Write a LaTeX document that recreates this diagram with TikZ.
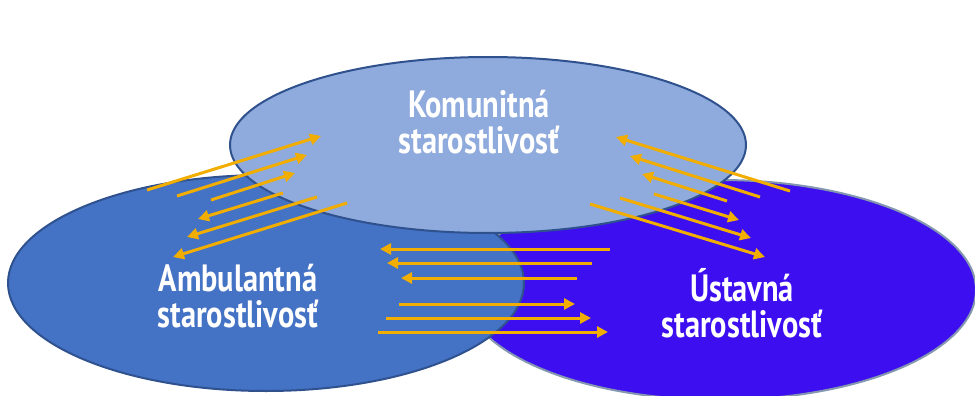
\documentclass[tikz,border=0pt]{standalone}
\usepackage{fontspec}
\newfontfamily\lblfont{PT Sans}[FakeStretch=0.8]
\usetikzlibrary{shapes.geometric,arrows.meta}
\definecolor{komfill}{HTML}{8FAADC}
\definecolor{ambfill}{HTML}{4472C4}
\definecolor{ustfill}{HTML}{3D0FF0}
\definecolor{ringblue}{HTML}{2F528F}
\definecolor{ringgray}{HTML}{8497B0}
\definecolor{flow}{HTML}{F2AE00}
\begin{document}
\begin{tikzpicture}[x=1pt,y=-1pt,line join=round,>={Triangle[length=11pt,width=11pt]}]
	\tikzset{area/.style={ellipse,draw=ringblue,line width=2pt,inner sep=0pt},
		area text/.style={text=white,align=center,font=\lblfont\bfseries\fontsize{38}{36}\selectfont},
		flow arrow/.style={->,draw=flow,fill=flow,line width=3pt}}
	\useasboundingbox (0,0) rectangle (975,396);
	% the three kinds of care
	\node[area,draw=ringgray,fill=ustfill,minimum width=512pt,minimum height=220pt] (ust) at (720,290) {};
	\node[area,fill=ambfill,minimum width=516pt,minimum height=216pt] (amb) at (266,283) {};
	\node[area,fill=komfill,minimum width=516pt,minimum height=176pt] (kom) at (488,145) {};
	\node[area text] (komtext) at (479,122) {Komunitná\\starostlivosť};
	\node[area text] (ambtext) at (238,296) {Ambulantná\\starostlivosť};
	\node[area text] (usttext) at (742,303) {Ústavná\\starostlivosť};
	% arrows between ambulantna and komunitna
	\foreach \xa/\ya/\xb/\yb in {147/190/321/136,177/196/307/155,211/200/295/173,
		283/193/198/219,317/197/187/237,347/203/173/257}
		\draw[flow arrow] (\xa,\ya)--(\xb,\yb);
	% arrows between ustavna and komunitna
	\foreach \xa/\ya/\xb/\yb in {790/191/616/137,760/197/630/156,727/201/642/174,
		654/194/739/220,620/198/751/238,590/204/765/257}
		\draw[flow arrow] (\xa,\ya)--(\xb,\yb);
	% arrows between ambulantna and ustavna
	\foreach \xa/\y/\xb in {610/249/380,592/263/387,577/278/401,
		399/304/575,386/318/591,378/332/608}
		\draw[flow arrow] (\xa,\y)--(\xb,\y);
\end{tikzpicture}
\end{document}
